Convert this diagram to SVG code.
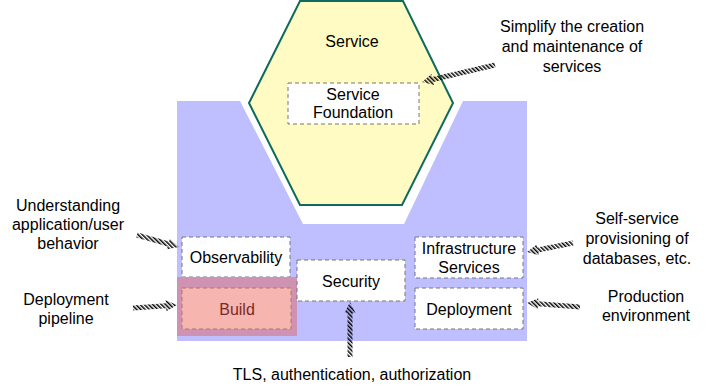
<svg xmlns="http://www.w3.org/2000/svg" width="713" height="387" viewBox="0 0 713 387">
<style>
text{font-family:"Liberation Sans",Arial,sans-serif;font-size:16px;fill:#000;text-anchor:middle}
.box{fill:#fff;stroke:#777;stroke-width:1;stroke-dasharray:4 3}
.arrow{fill:url(#hatch)}
</style>
<defs>
<pattern id="hatch" patternUnits="userSpaceOnUse" width="3" height="3" patternTransform="rotate(-45)">
<rect x="0" y="0" width="1.5" height="3" fill="#000"/>
</pattern>
</defs>
<rect width="713" height="387" fill="#fff"/>
<g id="platform">
<polygon points="177,101 240,101 303,224 404,224 463,101 527,101 527,341 177,341" fill="#bfbfff"/>
</g>
<g id="service">
<polygon points="300,1 403,1 453,103 402,205 300,205 249,103" fill="#fffbc2" stroke="#0d6b5e" stroke-width="2"/>
<text x="352" y="47">Service</text>
</g>
<g id="service-foundation">
<rect class="box" x="288" y="83" width="131" height="41"/>
<text x="353" y="100">Service</text>
<text x="353" y="118">Foundation</text>
</g>
<g id="observability">
<rect class="box" x="182" y="237" width="108" height="40"/>
<text x="236" y="263">Observability</text>
</g>
<g id="build">
<rect x="177" y="277" width="120" height="59" fill="#cf92b3"/>
<rect x="182" y="288" width="109" height="41" fill="#f6b5ae" stroke="#a77" stroke-width="1" stroke-dasharray="4 3"/>
<text x="237" y="315" style="fill:#7a2a2a">Build</text>
</g>
<g id="security">
<rect class="box" x="297" y="260" width="108" height="41"/>
<text x="351" y="287">Security</text>
</g>
<g id="infrastructure-services">
<rect class="box" x="415" y="237" width="108" height="41"/>
<text x="469" y="254">Infrastructure</text>
<text x="469" y="273">Services</text>
</g>
<g id="deployment">
<rect class="box" x="415" y="288" width="108" height="41"/>
<text x="469" y="315">Deployment</text>
</g>
<g id="labels">
<text x="572" y="32">Simplify the creation</text>
<text x="572" y="52">and maintenance of</text>
<text x="572" y="72">services</text>
<text x="68" y="211">Understanding</text>
<text x="68" y="230">application/user</text>
<text x="68" y="249">behavior</text>
<text x="66" y="305">Deployment</text>
<text x="66" y="324">pipeline</text>
<text x="637" y="224">Self-service</text>
<text x="637" y="244">provisioning of</text>
<text x="637" y="264">databases, etc.</text>
<text x="646" y="302">Production</text>
<text x="646" y="321">environment</text>
<text x="352" y="380">TLS, authentication, authorization</text>
</g>
<g id="connectors">
<polygon class="arrow" points="494.4,62.6 432.1,77.1 431.5,74.1 422,82 434.0,84.9 433.3,81.9 495.6,67.4"/>
<polygon class="arrow" points="136.3,237.4 167.7,246.4 166.9,249.3 179,247 169.9,238.7 169.1,241.6 137.7,232.6"/>
<polygon class="arrow" points="133.2,310.5 166.2,308.2 166.4,311.2 177,305 165.6,300.2 165.8,303.2 132.8,305.5"/>
<polygon class="arrow" points="572.5,240.5 537.3,247.4 536.7,244.5 527,252 538.9,255.3 538.3,252.4 573.5,245.5"/>
<polygon class="arrow" points="580.2,304.5 538.2,301.3 538.4,298.3 527,303 537.6,309.3 537.8,306.3 579.8,309.5"/>
<polygon class="arrow" points="352.5,357 352.5,313 355.5,313 350,302 344.5,313 347.5,313 347.5,357"/>
</g>
</svg>
